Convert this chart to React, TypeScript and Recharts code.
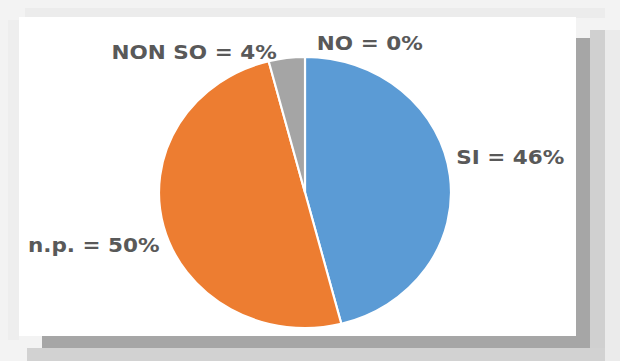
import React from 'react';
import { PieChart, Pie, Cell } from 'recharts';

const categories = ['SI', 'n.p.', 'NON SO', 'NO'];
const values = [46, 50, 4, 0];
const colors = ['#5B9BD5', '#ED7D31', '#A5A5A5', '#FFC000'];
const labelNudge = [
  { dx: -4, dy: -17, anchor: 'start' },
  { dx: 6, dy: 17, anchor: 'end' },
  { dx: -8, dy: 4, anchor: 'end' },
  { dx: 11, dy: -4, anchor: 'start' },
];

const data = categories.map((c, i) => ({ name: c, value: values[i] }));

const RAD = Math.PI / 180;

const renderLabel = (props: any) => {
  const { cx, cy, midAngle, outerRadius, index } = props;
  const r = outerRadius + 10;
  const x = cx + r * Math.cos(-midAngle * RAD);
  const y = cy + r * Math.sin(-midAngle * RAD);
  const n = labelNudge[index];
  return (
    <text
      x={x + n.dx}
      y={y + n.dy}
      textAnchor={n.anchor}
      dominantBaseline="central"
      fill="#595959"
      fontFamily="'DejaVu Sans', sans-serif"
      fontWeight={700}
      fontSize={20}
    >
      {`${categories[index]} = ${values[index]}%`}
    </text>
  );
};

export default function App() {
  return (
    <div style={{ position: 'absolute', left: 0, top: 0, width: 620, height: 361, background: '#f3f3f3', overflow: 'hidden' }}>
      <div style={{ position: 'absolute', left: 25, top: 8, width: 580, height: 10, background: '#ececec' }} />
      <div style={{ position: 'absolute', left: 8, top: 20, width: 11, height: 320, background: '#eeeeee' }} />
      <div style={{ position: 'absolute', left: 590, top: 30, width: 15, height: 325, background: '#d0d0d0' }} />
      <div style={{ position: 'absolute', left: 605, top: 30, width: 15, height: 331, background: '#ebebeb' }} />
      <div style={{ position: 'absolute', left: 27, top: 348, width: 578, height: 13, background: '#d2d2d2' }} />
      <div style={{ position: 'absolute', left: 576, top: 38, width: 14, height: 310, background: '#a6a6a6' }} />
      <div style={{ position: 'absolute', left: 42, top: 336, width: 548, height: 12, background: '#a6a6a6' }} />
      <div style={{ position: 'absolute', left: 19, top: 17, width: 557, height: 319, background: '#ffffff' }} />
      <div style={{ position: 'absolute', left: 0, top: 0 }}>
        <PieChart
          width={620}
          height={361}
          margin={{ top: 0, right: 0, bottom: 0, left: 0 }}
          style={{ transform: 'scaleX(1.0775)', transformOrigin: '305px 192.5px' }}
        >
          <Pie
            data={data}
            dataKey="value"
            nameKey="name"
            cx={305}
            cy={192.5}
            outerRadius={135.5}
            startAngle={90}
            endAngle={-270}
            stroke="#ffffff"
            strokeWidth={2}
            label={renderLabel}
            labelLine={false}
            isAnimationActive={false}
          >
            {data.map((d, i) => (
              <Cell key={d.name} fill={colors[i]} />
            ))}
          </Pie>
        </PieChart>
      </div>
    </div>
  );
}
